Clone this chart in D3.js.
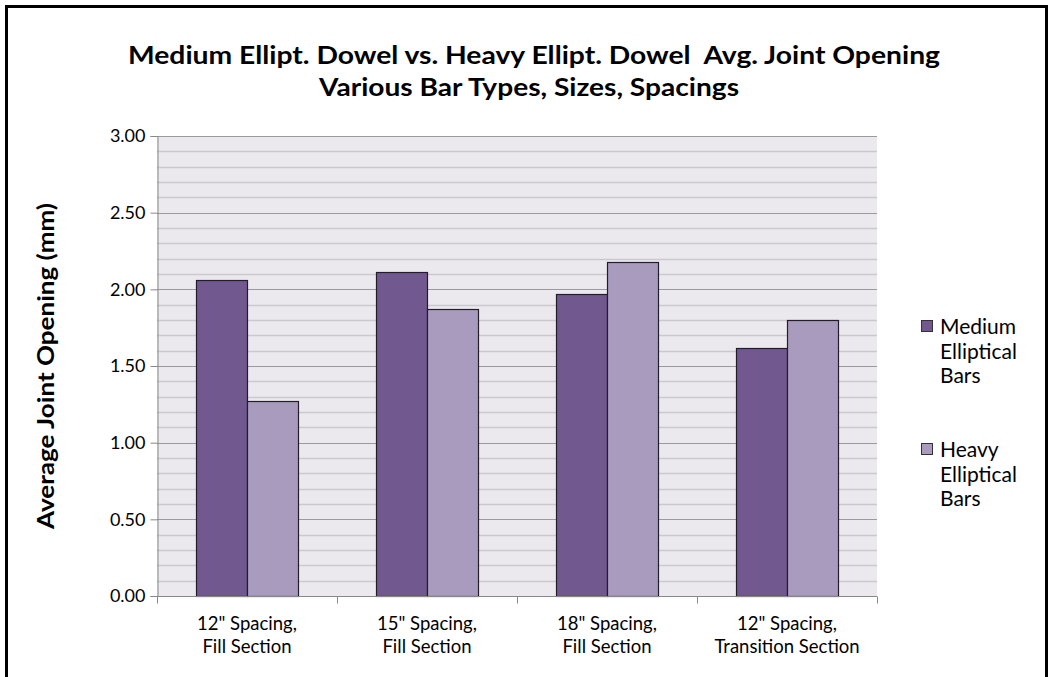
<!DOCTYPE html>
<html>
<head>
<meta charset="utf-8">
<script src="https://cdn.jsdelivr.net/npm/d3@7"></script>
<style>
  body { margin: 0; background: #fff; }
  text { font-family: Lato, "Open Sans", sans-serif; fill: #000; white-space: pre; }
</style>
</head>
<body>
<div id="chart"></div>
<script>
// data
var categories = ["12\" Spacing,|Fill Section", "15\" Spacing,|Fill Section", "18\" Spacing,|Fill Section", "12\" Spacing,|Transition Section"];
var seriesNames = ["Medium Elliptical Bars", "Heavy Elliptical Bars"];
var mediumVals = [2.06, 2.11, 1.97, 1.62];
var heavyVals = [1.27, 1.87, 2.18, 1.80];
var yTicks = [0, 0.5, 1.0, 1.5, 2.0, 2.5, 3.0];
var colors = ["#71588f", "#a99bbd"];

var width = 1052, height = 677;
var plot = {left: 157, right: 877, top: 136, bottom: 596};

var svg = d3.select("#chart").append("svg")
  .attr("width", width).attr("height", height);

// outer frame
svg.append("rect")
  .attr("x", 6.5).attr("y", 6.5)
  .attr("width", 1040).attr("height", 700)
  .attr("fill", "none").attr("stroke", "#000").attr("stroke-width", 3);

var x0 = d3.scaleBand().domain(d3.range(categories.length))
  .range([plot.left, plot.right]);
// bar pair is 102px wide, centred in each 180px slot
var x1 = d3.scaleBand().domain([0, 1])
  .range([39, x0.bandwidth() - 39]).padding(0);

var y = d3.scaleLinear().domain([0, 3]).range([plot.bottom, plot.top]);

// plot background
svg.append("rect")
  .attr("x", plot.left).attr("y", plot.top)
  .attr("width", plot.right - plot.left).attr("height", plot.bottom - plot.top)
  .attr("fill", "#ebe9ee");

// minor gridlines
var minor = d3.range(1, 30).map(function (d) { return d / 10; }).filter(function (d) { return Math.round(d * 10) % 5 != 0; });
svg.append("g").selectAll("line").data(minor).enter().append("line")
  .attr("x1", plot.left).attr("x2", plot.right)
  .attr("y1", function (d) { return Math.round(y(d)) + 0.5; })
  .attr("y2", function (d) { return Math.round(y(d)) + 0.5; })
  .attr("stroke", "#cbc8cf").attr("stroke-width", 1.5);

// major gridlines
svg.append("g").selectAll("line").data(yTicks.filter(function (d) { return d > 0; })).enter().append("line")
  .attr("x1", plot.left).attr("x2", plot.right)
  .attr("y1", function (d) { return Math.round(y(d)) + 0.5; })
  .attr("y2", function (d) { return Math.round(y(d)) + 0.5; })
  .attr("stroke", "#9c9a9e").attr("stroke-width", 1.2);

// y axis
var yAxis = svg.append("g").attr("transform", "translate(" + (plot.left + 0.5) + ",0)")
  .call(d3.axisLeft(y).tickValues(yTicks).tickFormat(d3.format(".2f")).tickSize(7).tickPadding(5));
yAxis.attr("font-family", null).attr("font-size", null);
yAxis.select(".domain").attr("stroke", "#888");
yAxis.selectAll(".tick line").attr("stroke", "#888");
yAxis.selectAll(".tick text").style("font-size", "18px").attr("fill", "#000");

// bars
var groups = svg.append("g").selectAll("g").data(categories).enter().append("g")
  .attr("transform", function (d, i) { return "translate(" + x0(i) + ",0)"; });

groups.selectAll("rect").data(function (d, i) { return [mediumVals[i], heavyVals[i]]; })
  .enter().append("rect")
  .attr("x", function (d, j) { return x1(j) + 0.5; })
  .attr("y", function (d) { return Math.round(y(d)) + 0.5; })
  .attr("width", x1.bandwidth())
  .attr("height", function (d) { return plot.bottom - Math.round(y(d)); })
  .attr("fill", function (d, j) { return colors[j]; })
  .attr("stroke", "#231c2b").attr("stroke-width", 1.2);

// x axis
var xAxisG = svg.append("g").attr("transform", "translate(0," + (plot.bottom + 0.5) + ")");
xAxisG.append("line").attr("x1", plot.left).attr("x2", plot.right)
  .attr("stroke", "#888");
xAxisG.selectAll(".xt").data(d3.range(categories.length + 1)).enter().append("line")
  .attr("x1", function (d) { return plot.left + d * x0.bandwidth() + 0.5; })
  .attr("x2", function (d) { return plot.left + d * x0.bandwidth() + 0.5; })
  .attr("y1", 0).attr("y2", 7).attr("stroke", "#888");

var xl = xAxisG.selectAll(".xl").data(categories).enter().append("text")
  .attr("text-anchor", "middle")
  .attr("x", function (d, i) { return x0(i) + x0.bandwidth() / 2; })
  .style("font-size", "18.5px");
xl.each(function (d) {
  var parts = d.split("|");
  var t = d3.select(this);
  parts.forEach(function (p, k) {
    t.append("tspan").attr("x", t.attr("x")).attr("y", 33 + k * 23).text(p);
  });
});

// title
svg.append("text").attr("x", 534).attr("y", 64).attr("text-anchor", "middle")
  .style("font-size", "24px").style("font-weight", "bold")
  .attr("textLength", 812).attr("lengthAdjust", "spacingAndGlyphs")
  .text("Medium Ellipt. Dowel vs. Heavy Ellipt. Dowel  Avg. Joint Opening");
svg.append("text").attr("x", 529).attr("y", 96).attr("text-anchor", "middle")
  .style("font-size", "24px").style("font-weight", "bold")
  .attr("textLength", 420).attr("lengthAdjust", "spacingAndGlyphs")
  .text("Various Bar Types, Sizes, Spacings");

// y axis title
svg.append("text")
  .attr("transform", "translate(54," + ((plot.top + plot.bottom) / 2) + ") rotate(-90)")
  .attr("text-anchor", "middle")
  .style("font-size", "23px").style("font-weight", "bold")
  .attr("textLength", 326).attr("lengthAdjust", "spacingAndGlyphs")
  .text("Average Joint Opening (mm)");

// legend
var legend = svg.append("g").selectAll("g").data(seriesNames).enter().append("g")
  .attr("transform", function (d, i) { return "translate(921," + (320 + i * 123) + ")"; });
legend.append("rect").attr("x", 0.5).attr("y", 0.5).attr("width", 11).attr("height", 11)
  .attr("fill", function (d, i) { return colors[i]; })
  .attr("stroke", "#333").attr("stroke-width", 1);
legend.append("text")
  .style("font-size", "21px")
  .each(function (d) {
    var t = d3.select(this);
    d.split(" ").forEach(function (p, k) {
      t.append("tspan").attr("x", 19).attr("y", 14 + k * 24.5).text(p);
    });
  });
</script>
</body>
</html>
